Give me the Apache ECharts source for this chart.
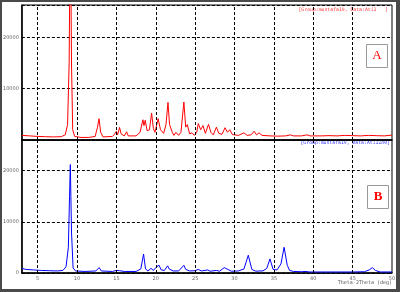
<!DOCTYPE html>
<html><head><meta charset="utf-8">
<script src="https://cdn.jsdelivr.net/npm/echarts@6/dist/echarts.min.js"></script>
<style>html,body{margin:0;padding:0;background:#fff}#c{width:400px;height:292px}</style>
</head><body><div id="c"></div>
<script>
const xTicks = [5, 10, 15, 20, 25, 30, 35, 40, 45, 50];
const yTicksA = [10000, 20000];
const yTicksB = [0, 10000, 20000];
const legendA = '[Group:mustafa19, Data:Ati1   ]';
const legendB = '[Group:mustafa19, Data:Ati1Zn0]';
const xTitle = 'Theta-2Theta (deg)';
const seriesA = [
 [3.0,900],[4,800],[5,700],[6,650],[7,600],[8,650],[8.5,1000],[8.8,3000],[9.0,15000],[9.15,45000],[9.3,15000],[9.45,2000],[9.7,700],
 [10.5,500],[11.5,500],[12.3,700],[12.6,2500],[12.8,4150],[13.0,1500],[13.3,600],[14.5,700],[14.8,1200],[15.0,1700],[15.15,1000],
 [15.4,2450],[15.6,1200],[16.0,800],[16.3,1600],[16.5,800],[17.5,800],[18.0,1500],[18.37,3950],[18.5,2800],[18.66,3850],[18.9,1800],
 [19.2,2000],[19.47,5260],[19.7,2200],[19.9,1500],[20.3,4150],[20.6,2000],[21.0,1300],[21.3,3000],[21.55,7330],[21.75,3000],[21.85,3200],
 [22.1,1500],[22.3,900],[22.56,1500],[22.9,900],[23.2,1500],[23.57,7400],[23.8,2500],[24.0,3000],[24.3,1200],[24.6,1400],[24.9,900],
 [25.2,1500],[25.4,3200],[25.7,2000],[26.0,2800],[26.3,1300],[26.7,3050],[27.0,1500],[27.3,1000],[27.7,2500],[28.0,1300],[28.4,1100],
 [28.8,2400],[29.1,1500],[29.4,2000],[29.7,1100],[30.0,1000],[30.5,900],[31.2,1400],[31.6,900],[32.1,1000],[32.5,1700],[32.8,1000],
 [33.1,1400],[33.5,900],[34.5,800],[35.5,750],[36.5,800],[37.1,1000],[37.5,800],[38.5,800],[39.2,1000],[39.6,800],[41,800],[42,850],
 [43,800],[44,900],[45,850],[46,800],[47,900],[48,850],[49,800],[50,950]
];
const seriesB = [
 [3.0,900],[3.5,700],[4.5,600],[5.5,500],[6.5,450],[7.5,400],[8.2,500],[8.6,1200],[8.9,5000],[9.05,15000],[9.15,21200],[9.3,8000],
 [9.5,1000],[9.8,400],[11,300],[12.4,400],[12.8,1050],[13.1,400],[14.5,300],[15.0,500],[15.4,450],[16,300],[17.5,300],[18.1,800],
 [18.45,3700],[18.7,800],[19.0,400],[19.4,900],[19.7,500],[20.0,1050],[20.2,800],[20.4,1550],[20.7,600],[21.1,500],[21.5,1400],
 [21.7,800],[21.9,1050],[22.2,400],[22.9,400],[23.57,1500],[23.8,700],[24.0,800],[24.3,400],[25.0,450],[25.4,700],[25.8,400],
 [26.6,600],[26.9,350],[27.7,500],[28.1,350],[28.7,1050],[28.95,700],[29.15,700],[29.6,350],[30.5,400],[31.2,800],[31.75,3470],
 [32.2,700],[32.7,350],[33.1,400],[33.6,400],[34.1,900],[34.5,2750],[34.9,700],[35.4,600],[35.9,1800],[36.3,5030],[36.7,1500],
 [37.0,500],[37.2,700],[37.5,300],[38.5,250],[39.1,300],[39.5,200],[42,200],[45,200],[46.5,250],[47.1,600],[47.5,1050],[47.9,500],
 [48.5,200],[50,200]
];

const chart = echarts.init(document.getElementById('c'), null, {renderer:'canvas'});
const gridLine = {show:true, lineStyle:{color:'#000', type:[3,2], width:1}};
const lab = (list) => ({show:true, fontSize:5, color:'#666', fontFamily:'DejaVu Sans', margin:3,
  formatter: v => list.indexOf(v) >= 0 ? String(v) : ''});
const xAxisBase = {type:'value', min:3, max:50,
  axisLine:{show:true, onZero:false, lineStyle:{color:'#000', width:1.5}}, axisTick:{show:false}, splitLine:{show:false}};
const vLines = {silent:true, symbol:'none', animation:false, label:{show:false},
  lineStyle:{color:'#000', type:[3,2], width:1},
  data: xTicks.filter(v => v < 50).map(v => ({xAxis:v}))};
chart.setOption({
  animation:false,
  grid:[
    {left:19, right:8, top:5, height:135, show:true, borderColor:'#000', borderWidth:1},
    {left:19, right:8, top:140, height:133, show:true, borderColor:'#000', borderWidth:1}
  ],
  xAxis:[
    Object.assign({gridIndex:0, axisLabel:{show:false}}, xAxisBase),
    Object.assign({gridIndex:1, axisLabel:Object.assign(lab(xTicks), {customValues:xTicks})}, xAxisBase)
  ],
  yAxis:[
    {gridIndex:0, type:'value', min:0, max:26300, interval:10000, axisLine:{show:true, lineStyle:{color:'#000', width:1.5}},
     axisTick:{show:false}, splitLine:gridLine, axisLabel:lab(yTicksA)},
    {gridIndex:1, type:'value', min:0, max:26000, interval:10000, axisLine:{show:true, lineStyle:{color:'#000', width:1.5}},
     axisTick:{show:false}, splitLine:gridLine, axisLabel:lab(yTicksB)}
  ],
  series:[
    {type:'line', xAxisIndex:0, yAxisIndex:0, data:seriesA, showSymbol:false, clip:true, lineStyle:{color:'#ff0000', width:1}, markLine:vLines, z:3},
    {type:'line', xAxisIndex:1, yAxisIndex:1, data:seriesB, showSymbol:false, clip:true, lineStyle:{color:'#0000ff', width:1}, markLine:vLines, z:3}
  ],
  graphic:[
    {type:'text', right:12, top:7, style:{text:legendA, fill:'#ff3030', font:'4.8px "DejaVu Sans Mono"'}},
    {type:'text', right:10, top:140, style:{text:legendB, fill:'#3030ff', font:'4.8px "DejaVu Sans Mono"'}},
    {type:'text', right:8, top:280, style:{text:xTitle, fill:'#555', font:'5px "DejaVu Sans Mono"'}},
    {type:'rect', shape:{x:366.5, y:44.5, width:21, height:23}, style:{fill:'#fff', stroke:'#999', lineWidth:1}},
    {type:'text', x:377, y:56, style:{text:'A', fill:'#ff0000', font:'13px "Liberation Serif"', align:'center', verticalAlign:'middle'}},
    {type:'rect', shape:{x:367.5, y:185.5, width:21, height:23}, style:{fill:'#fff', stroke:'#999', lineWidth:1}},
    {type:'text', x:378, y:197, style:{text:'B', fill:'#ff0000', font:'bold 13px "Liberation Serif"', align:'center', verticalAlign:'middle'}},
    {type:'rect', shape:{x:0, y:0, width:2, height:292}, style:{fill:'#4a4a4a'}},
    {type:'rect', shape:{x:0, y:0, width:400, height:2}, style:{fill:'#4a4a4a'}},
    {type:'rect', shape:{x:396, y:0, width:4, height:292}, style:{fill:'#4a4a4a'}},
    {type:'rect', shape:{x:0, y:289, width:400, height:3}, style:{fill:'#4a4a4a'}}
  ]
});
</script></body></html>
